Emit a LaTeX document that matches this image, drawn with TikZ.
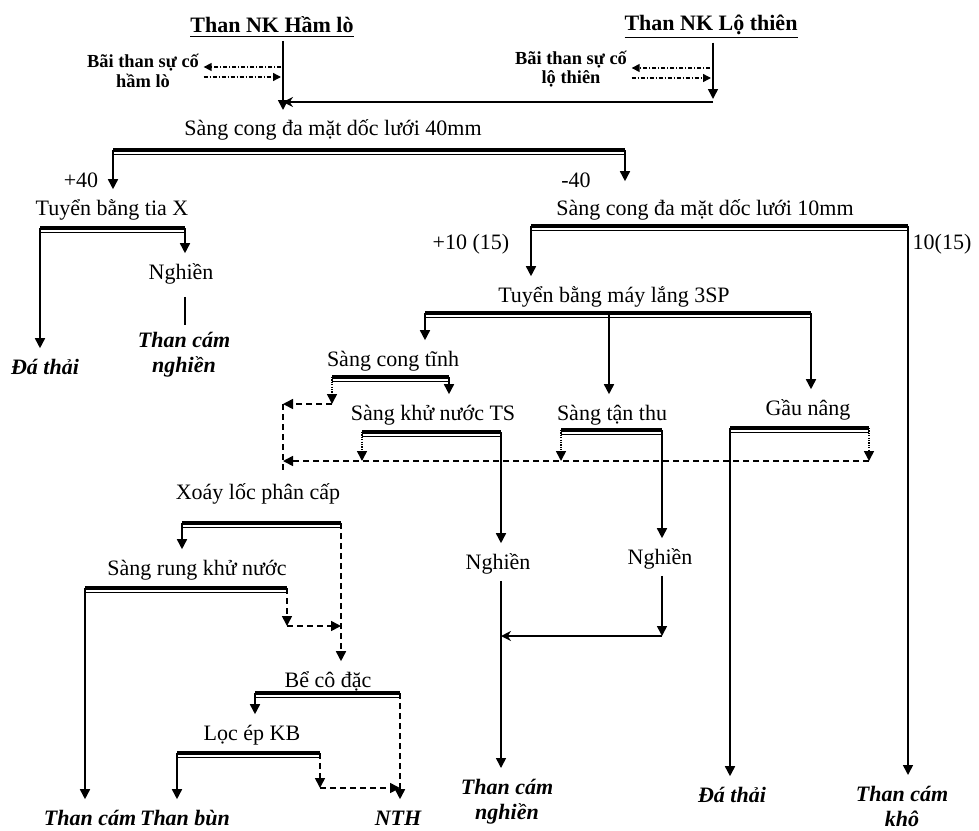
\documentclass[tikz,border=0pt]{standalone}
\usepackage{fontspec}
\setmainfont{Liberation Serif}
\usepackage{tikz}
\usetikzlibrary{arrows.meta}
% screen deck: thick upper line, thin lower line
\newcommand{\sieve}[3]{%
  \coordinate (#1-l) at #2;
  \coordinate (#1-r) at #3;
  \draw[line width=2pt] (#1-l) -- (#1-r);
  \draw[line width=0.6pt] ([yshift=-2.4pt]#1-l) -- ([yshift=-2.4pt]#1-r);}

\begin{document}
\begin{tikzpicture}[x=0.5pt,y=-0.5pt,line width=0.8pt,
    lbl/.style={font=\fontsize{11}{13}\selectfont,inner xsep=1pt,inner ysep=2.5pt,text height=10pt,text depth=3pt},
    prod/.style={lbl,font=\fontsize{11}{13}\selectfont\bfseries\itshape},
    prod2/.style={font=\fontsize{11}{12.5}\selectfont\bfseries\itshape,align=center,anchor=north,inner sep=0pt},
    src/.style={font=\fontsize{11}{13}\selectfont\bfseries,inner sep=1.5pt},
    spill/.style={font=\fontsize{9.2}{9.8}\selectfont\bfseries,align=center,inner sep=2pt},
    flow/.style={-{Triangle[length=5pt,width=5pt]}},
    drain/.style={flow,dash pattern=on 3pt off 2pt},
    under/.style={flow,dash pattern=on 0.6pt off 0.6pt},
    reject/.style={line width=0.7pt,dash pattern=on 2pt off 1pt on 0.5pt off 1pt,-{Triangle[length=4pt,width=4pt]}},
    merge/.style={-{Stealth[length=5pt,width=5pt]}}]
\useasboundingbox (0,0) rectangle (979,830);

% feed
\node[src] (hamlo) at (272,27) {\underline{Than NK Hầm lò}};
\node[src] (lothien) at (711,27) {\underline{Than NK Lộ thiên}};
\node[spill] (baihl) at (143,71) {Bãi than sự cố\\hầm lò};
\node[spill] (bailt) at (571,69) {Bãi than sự cố\\lộ thiên};

\node[lbl] (sang40) at (333,128) {Sàng cong đa mặt dốc lưới 40mm};
\node[lbl] (p40) at (81,180) {+40};
\node[lbl] (m40) at (576,180) {-40};
\node[lbl] (tiax) at (112,208) {Tuyển bằng tia X};
\node[lbl] (sang10) at (705,208) {Sàng cong đa mặt dốc lưới 10mm};
\node[lbl] (p10) at (471,242) {+10 (15)};
\node[lbl] (m10) at (942,242) {10(15)};
\node[lbl] (nghien1) at (181,272) {Nghiền};
\node[lbl] (maylang) at (614,295) {Tuyển bằng máy lắng 3SP};
\node[lbl] (congtinh) at (393,359) {Sàng cong tĩnh};
\node[lbl] (gaunang) at (808,408) {Gầu nâng};
\node[lbl] (khunuoc) at (433,413) {Sàng khử nước TS};
\node[lbl] (tanthu) at (612,413) {Sàng tận thu};
\node[lbl] (xoay) at (258,492) {Xoáy lốc phân cấp};
\node[lbl] (nghien3) at (660,557) {Nghiền};
\node[lbl] (nghien2) at (498,562) {Nghiền};
\node[lbl] (rung) at (197,568) {Sàng rung khử nước};
\node[lbl] (beco) at (328,680) {Bể cô đặc};
\node[lbl] (locep) at (252,733) {Lọc ép KB};

% products
\node[prod] (dathai1) at (45,367) {Đá thải};
\node[prod2] (tcn1) at (184,331) {Than cám\\nghiền};
\node[prod] (thancam) at (90,818) {Than cám};
\node[prod] (thanbun) at (185,818) {Than bùn};
\node[prod] (nth) at (398,818) {NTH};
\node[prod2] (tcn2) at (507,778) {Than cám\\nghiền};
\node[prod] (dathai2) at (732,795) {Đá thải};
\node[prod2] (tckho) at (902,785) {Than cám\\khô};

% screens
\sieve{b1}{(113,150)}{(625,150)}
\sieve{b2}{(40,228)}{(185,228)}
\sieve{b3}{(531,226)}{(908,226)}
\sieve{b4}{(425,313)}{(811,313)}
\sieve{b5}{(332,377)}{(449,377)}
\sieve{b6}{(362,432)}{(501,432)}
\sieve{b7}{(561,430)}{(662,430)}
\sieve{b8}{(730,428)}{(869,428)}
\sieve{b9}{(182,523)}{(341,523)}
\sieve{b10}{(85,588)}{(287,588)}
\sieve{b11}{(255,693)}{(400,693)}
\sieve{b12}{(177,753)}{(320,753)}
\coordinate (b4-m) at (609,313);

% feed lines
\coordinate (hl) at (283,110);
\coordinate (lt) at (713,99);
\coordinate (ltj) at (713,102);
\draw[flow] (hl |- hamlo.south) -- (hl);
\draw[flow] (lt |- lothien.south) -- (lt);
\draw[merge] (ltj) -- (ltj -| hl);
\coordinate (hla) at (281,67);
\coordinate (hlb) at (281,77);
\coordinate (lta) at (710,68);
\coordinate (ltb) at (711,78);
\draw[reject] (hla) -- (hla -| baihl.east);
\draw[reject] (hlb -| baihl.east) -- (hlb);
\draw[reject] (lta) -- (lta -| bailt.east);
\draw[reject] (ltb -| bailt.east) -- (ltb);

% main flows
\draw[flow] (b1-l) -- (b1-l |- tiax.north);
\draw[flow,shorten >=4pt] (b1-r) -- (b1-r |- sang10.north);
\draw[flow] (b2-l) -- (b2-l |- dathai1.north);
\draw[flow] (b2-r) -- (b2-r |- nghien1.north);
\draw[shorten <=3pt,shorten >=3pt] (nghien1.south -| b2-r) -- (b2-r |- tcn1.north);
\draw[flow] (b3-l) -- (b3-l |- maylang.north);
\draw[flow,shorten >=5pt] (b3-r) -- (b3-r |- tckho.north);
\draw[flow] (b4-l) -- (b4-l |- congtinh.north);
\draw[flow] (b4-m) -- (b4-m |- tanthu.north);
\draw[flow] (b4-r) -- (b4-r |- gaunang.north);
\draw[flow] (b5-r) -- (b5-r |- khunuoc.north);
\draw[flow] (b6-r) -- (b6-r |- nghien2.north);
\draw[flow] (b7-r) -- (b7-r |- nghien3.north);
\draw[flow] (b8-l) -- (b8-l |- dathai2.north);
\draw[flow,shorten >=5pt] (nghien2.south -| b6-r) -- (b6-r |- tcn2.north);
\coordinate (mg) at (662,636);
\draw[flow] (nghien3.south -| mg) -- (mg);
\draw[merge] (mg) -- (mg -| b6-r);

% water / slimes return
\coordinate (rc1) at (283,404);
\coordinate (rc2) at (283,461);
\draw[under] (b5-l) -- (b5-l |- rc1);
\draw[drain] (b5-l |- rc1) -- (rc1);
\draw[dash pattern=on 3pt off 2pt] (rc1) -- (rc1 |- xoay.north);
\draw[under] (b6-l) -- (b6-l |- rc2);
\draw[under] (b7-l) -- (b7-l |- rc2);
\draw[under] (b8-r) -- (b8-r |- rc2);
\draw[drain] (b8-r |- rc2) -- (rc2);

\draw[flow] (b9-l) -- (b9-l |- rung.north);
\draw[drain] (b9-r) -- (b9-r |- beco.north);
\draw[flow] (b10-l) -- (b10-l |- thancam.north);
\coordinate (rr) at (287,626);
\draw[drain] (b10-r) -- (rr);
\draw[drain] (rr) -- (rr -| b9-r);
\draw[flow] (b11-l) -- (b11-l |- locep.north);
\draw[drain] (b11-r) -- (b11-r |- nth.north);
\coordinate (lr) at (320,788);
\draw[drain] (b12-r) -- (lr);
\draw[drain] (lr) -- (lr -| b11-r);
\draw[flow] (b12-l) -- (b12-l |- thanbun.north);
\end{tikzpicture}
\end{document}
